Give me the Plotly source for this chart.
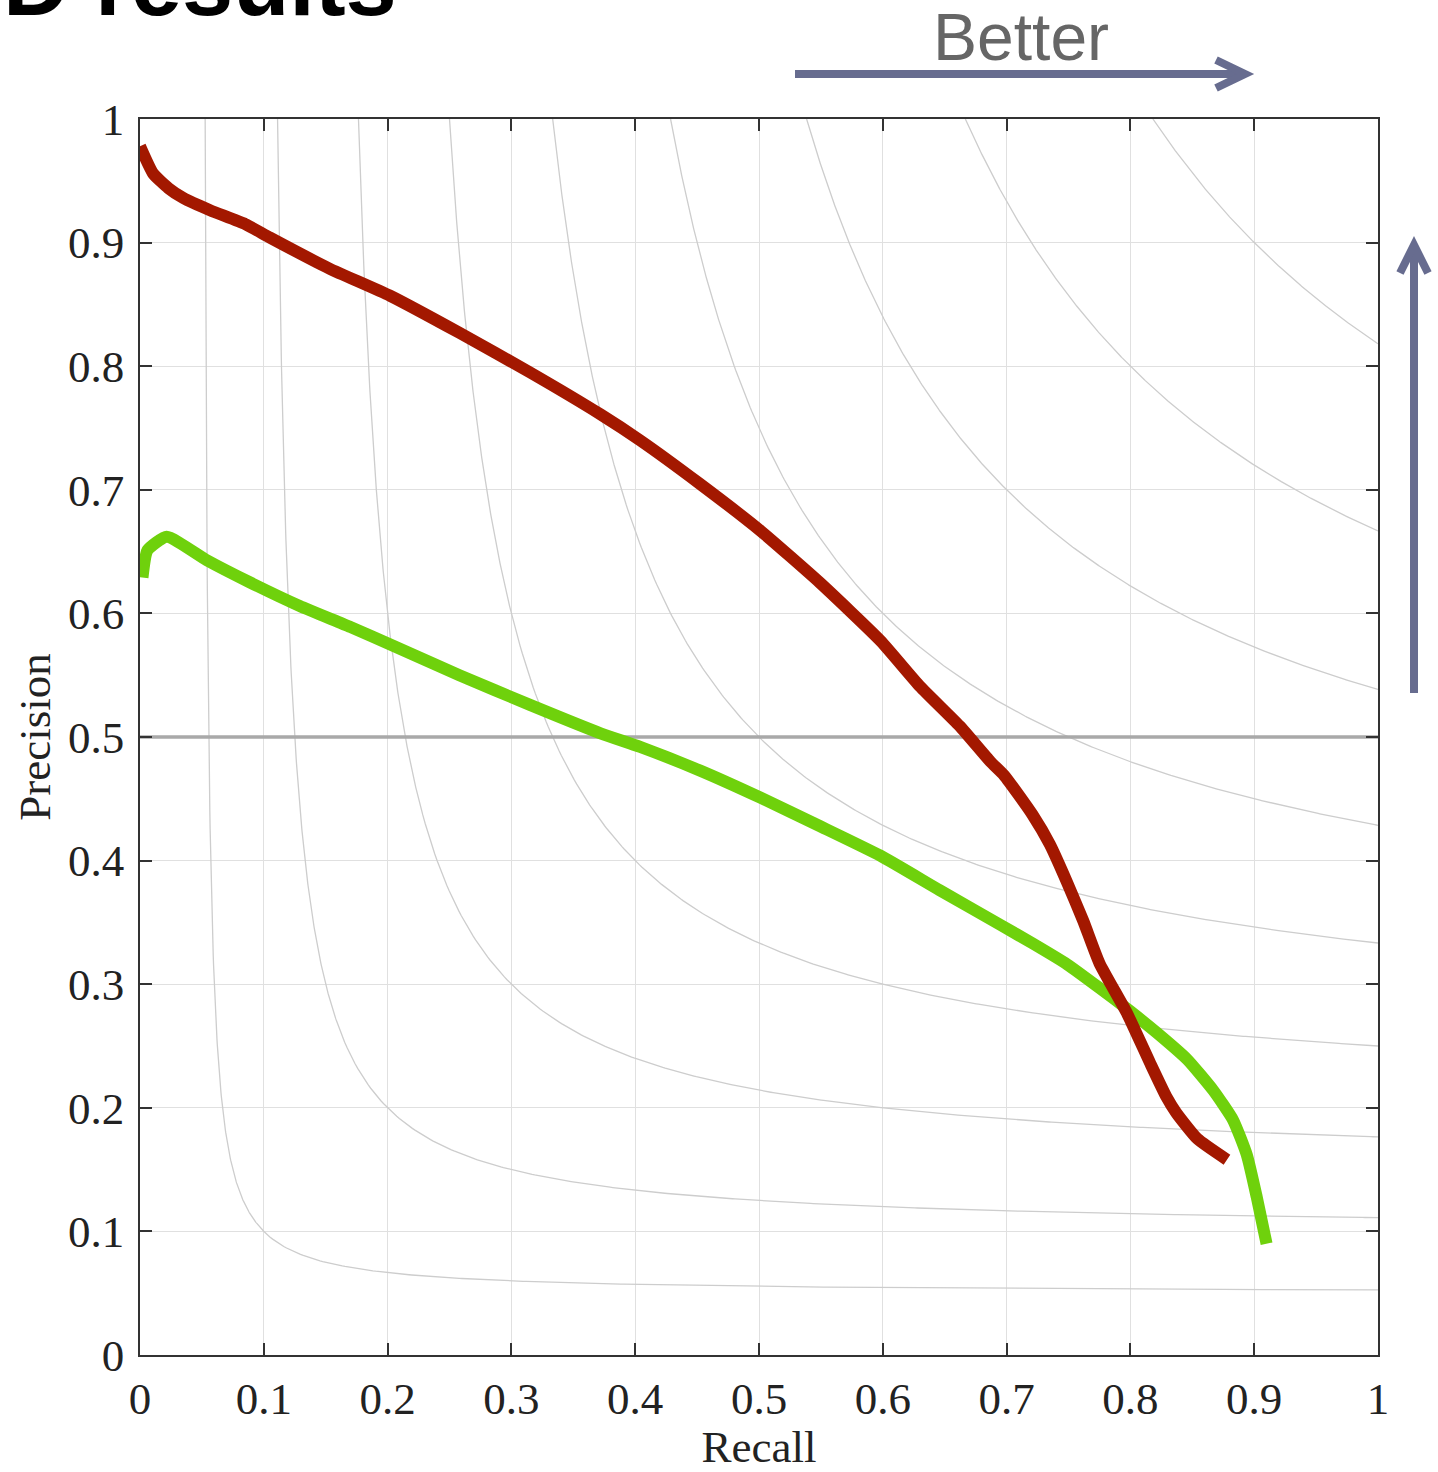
import numpy as np
import plotly.graph_objects as go

# Precision-recall curves of the two methods
recall_a = [0.000, 0.0105, 0.023, 0.035, 0.057, 0.085, 0.105, 0.153, 0.202, 0.258,
            0.315, 0.372, 0.404, 0.452, 0.501, 0.549, 0.598, 0.630, 0.662, 0.687,
            0.698, 0.721, 0.735, 0.749, 0.762, 0.775, 0.797, 0.816, 0.829, 0.837,
            0.854, 0.878]
precision_a = [0.978, 0.956, 0.944, 0.936, 0.926, 0.915, 0.904, 0.879, 0.857, 0.827,
               0.795, 0.761, 0.740, 0.705, 0.667, 0.625, 0.578, 0.541, 0.509, 0.480,
               0.469, 0.437, 0.413, 0.382, 0.351, 0.317, 0.277, 0.236, 0.209, 0.196,
               0.175, 0.158]

recall_b = [0.002, 0.006, 0.0216, 0.054, 0.089, 0.129, 0.170, 0.204, 0.258, 0.315,
            0.372, 0.404, 0.452, 0.501, 0.549, 0.598, 0.646, 0.695, 0.721, 0.749,
            0.775, 0.800, 0.821, 0.846, 0.867, 0.883, 0.894, 0.902, 0.910]
precision_b = [0.629, 0.651, 0.662, 0.643, 0.625, 0.606, 0.589, 0.574, 0.550, 0.526,
               0.503, 0.492, 0.473, 0.451, 0.428, 0.404, 0.376, 0.348, 0.333, 0.316,
               0.297, 0.278, 0.261, 0.239, 0.214, 0.190, 0.162, 0.128, 0.090]

# Iso-F-measure contour levels
f_levels = [0.1, 0.2, 0.3, 0.4, 0.5, 0.6, 0.7, 0.8, 0.9]

tick_vals = [0, 0.1, 0.2, 0.3, 0.4, 0.5, 0.6, 0.7, 0.8, 0.9, 1]
tick_text = ["0", "0.1", "0.2", "0.3", "0.4", "0.5", "0.6", "0.7", "0.8", "0.9", "1"]

W, H = 1438, 1472
L, R, T, B = 140, 60, 119, 117
PW, PH = W - L - R, H - T - B


def px(x):
    return (x - L) / PW


def py(y):
    return (H - B - y) / PH


fig = go.Figure()

# iso-F curves: P = F*R / (2R - F)
for f in f_levels:
    r0 = f / (2 - f)
    r = np.concatenate([np.linspace(r0, r0 + 0.05, 200), np.linspace(r0 + 0.05, 1, 400)])
    p = f * r / (2 * r - f)
    fig.add_trace(go.Scatter(x=r, y=p, mode="lines", hoverinfo="skip",
                             line=dict(color="#cdcdcd", width=1.3), showlegend=False))

# chance level line
fig.add_trace(go.Scatter(x=[0, 1], y=[0.5, 0.5], mode="lines", hoverinfo="skip",
                         line=dict(color="#a9a9a9", width=3.5), showlegend=False))

fig.add_trace(go.Scatter(x=recall_b, y=precision_b, mode="lines",
                         line=dict(color="#6fd10c", width=12, shape="spline", smoothing=0.5),
                         showlegend=False))
fig.add_trace(go.Scatter(x=recall_a, y=precision_a, mode="lines",
                         line=dict(color="#a31800", width=12, shape="spline", smoothing=0.5),
                         showlegend=False))

axis_common = dict(
    range=[0, 1], tickvals=tick_vals, ticktext=tick_text, automargin=False,
    showgrid=True, gridcolor="#e0e0e0", gridwidth=1.3,
    zeroline=False, showline=True, linecolor="#333333", linewidth=1.6,
    mirror="ticks", ticks="inside", ticklen=12, tickwidth=1.6, tickcolor="#333333",
    tickfont=dict(family="Liberation Serif", size=45, color="#222222"),
    title_font=dict(family="Liberation Serif", size=45, color="#222222"),
)

fig.update_xaxes(**axis_common, title_text="Recall", title_standoff=12, ticklabelstandoff=3)
fig.update_yaxes(**axis_common, title_text="Precision", title_standoff=3, ticklabelstandoff=5)

arrow_col = "#676c8f"
shapes = [
    # horizontal "Better" arrow
    dict(type="line", x0=px(795), x1=px(1243), y0=py(74), y1=py(74)),
    dict(type="path", path=f"M {px(1216)} {py(60)} L {px(1245)} {py(74)} L {px(1216)} {py(88)}"),
    # vertical arrow
    dict(type="line", x0=px(1414), x1=px(1414), y0=py(693), y1=py(247)),
    dict(type="path", path=f"M {px(1400)} {py(273)} L {px(1414)} {py(245)} L {px(1428)} {py(273)}"),
]
for s in shapes:
    s.update(xref="paper", yref="paper", line=dict(color=arrow_col, width=8))
fig.update_layout(shapes=shapes)

fig.add_annotation(text="Better", xref="paper", yref="paper", x=px(1021), y=py(37),
                   xanchor="center", yanchor="middle", showarrow=False,
                   font=dict(family="Liberation Sans", size=66, color="#666666"))
fig.add_annotation(text="<b>D results</b>", xref="paper", yref="paper", x=px(399), y=py(36),
                   xanchor="right", yanchor="bottom", showarrow=False,
                   font=dict(family="Liberation Sans", size=92, color="#000000"))

fig.update_layout(
    width=W, height=H, margin=dict(l=L, r=R, t=T, b=B),
    plot_bgcolor="white", paper_bgcolor="white",
)

fig.write_html("out.html")
